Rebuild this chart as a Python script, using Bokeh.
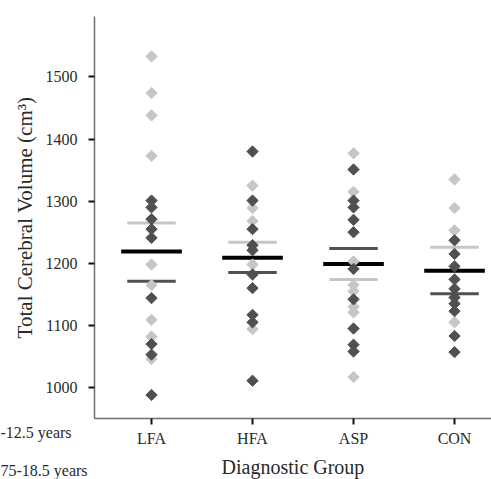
import numpy as np
from bokeh.plotting import figure
from bokeh.models import Range1d, FixedTicker, Label
from bokeh.embed import file_html
from bokeh.resources import INLINE

categories = ["LFA", "HFA", "ASP", "CON"]

dark_LFA = [1301, 1290, 1271, 1255, 1241, 1144, 1070, 1053, 988]
light_LFA = [1533, 1474, 1438, 1373, 1198, 1165, 1109, 1082, 1046]
dark_HFA = [1380, 1301, 1255, 1229, 1221, 1182, 1160, 1117, 1105, 1011]
light_HFA = [1325, 1289, 1268, 1198, 1094]
dark_ASP = [1351, 1301, 1290, 1270, 1250, 1191, 1142, 1095, 1069, 1058]
light_ASP = [1377, 1315, 1203, 1165, 1155, 1130, 1121, 1017]
dark_CON = [1237, 1215, 1195, 1174, 1159, 1145, 1135, 1123, 1083, 1057]
light_CON = [1335, 1289, 1253, 1105]

mean_all = [1219, 1209, 1199, 1188]
mean_dark = [1171, 1185, 1224, 1151]
mean_light = [1265, 1234, 1174, 1226]

y_ticks = [1000, 1100, 1200, 1300, 1400, 1500]
legend_texts = ["-12.5 years", "75-18.5 years"]

DARK = "#505050"
LIGHT = "#c6c6c6"
FONT = "Liberation Serif"
TXT = "#2a2a2a"

pos = np.arange(1, len(categories) + 1)

# frame spans the whole canvas; axes are pinned with fixed_location
X0, X1 = -0.495, 4.366
Y0, Y1 = 852, 1623
AX_X = 0.4356      # where the y axis sits (data x)
AX_Y = 950         # where the x axis sits (data y)
Y_TOP = 1598

p = figure(width=491, height=479, output_backend="svg", toolbar_location=None,
           x_range=Range1d(X0, X1), y_range=Range1d(Y0, Y1),
           min_border=0)
p.outline_line_color = None
p.xgrid.visible = False
p.ygrid.visible = False
p.background_fill_color = "white"
p.border_fill_color = "white"

# mean lines
def seg(means, hw, color, width):
    p.segment(x0=pos - hw, x1=pos + hw, y0=means, y1=means,
              line_color=color, line_width=width)

seg(mean_light, 0.24, LIGHT, 3)
seg(mean_dark, 0.24, DARK, 3)
seg(mean_all, 0.30, "black", 4)

light = [light_LFA, light_HFA, light_ASP, light_CON]
dark = [dark_LFA, dark_HFA, dark_ASP, dark_CON]

for i, vals in enumerate(light):
    p.scatter(x=[pos[i]] * len(vals), y=vals, marker="square", angle=np.pi / 4,
              size=8, fill_color=LIGHT, line_color=LIGHT)
for i, vals in enumerate(dark):
    p.scatter(x=[pos[i]] * len(vals), y=vals, marker="square", angle=np.pi / 4,
              size=8, fill_color=DARK, line_color=DARK)

for ax in (p.xaxis[0], p.yaxis[0]):
    ax.axis_line_color = "#707070"
    ax.axis_line_width = 1.5
    ax.major_tick_line_color = "#111111"
    ax.major_tick_line_width = 2
    ax.major_tick_out = 6
    ax.major_tick_in = 0
    ax.minor_tick_line_color = None
    ax.major_label_text_font = FONT
    ax.major_label_text_font_size = "16px"
    ax.major_label_text_color = TXT
    ax.axis_label_text_font = FONT
    ax.axis_label_text_font_style = "normal"
    ax.axis_label_text_color = TXT

p.xaxis.fixed_location = AX_Y
p.xaxis.bounds = (AX_X, X1)
p.xaxis.ticker = FixedTicker(ticks=list(pos))
p.xaxis.major_label_overrides = {int(k): c for k, c in zip(pos, categories)}
p.xaxis.major_label_standoff = 5
p.xaxis.axis_label = "Diagnostic Group"
p.xaxis.axis_label_text_font_size = "20px"
p.xaxis.axis_label_standoff = 6

p.yaxis.fixed_location = AX_X
p.yaxis.bounds = (AX_Y, Y_TOP)
p.yaxis.ticker = FixedTicker(ticks=y_ticks)
p.yaxis.major_label_standoff = 11
p.yaxis.axis_label = "Total Cerebral Volume (cm³)"
p.yaxis.axis_label_text_font_size = "21px"
p.yaxis.axis_label_standoff = 6

# cropped legend texts at the lower left
lab_y = [927.6, 866.4]
for t, yv in zip(legend_texts, lab_y):
    p.add_layout(Label(x=X0, y=yv, text=t, text_font=FONT,
                       text_font_size="16px", text_color=TXT,
                       text_baseline="middle", text_align="left"))

open("out.html", "w").write(file_html(p, INLINE))
